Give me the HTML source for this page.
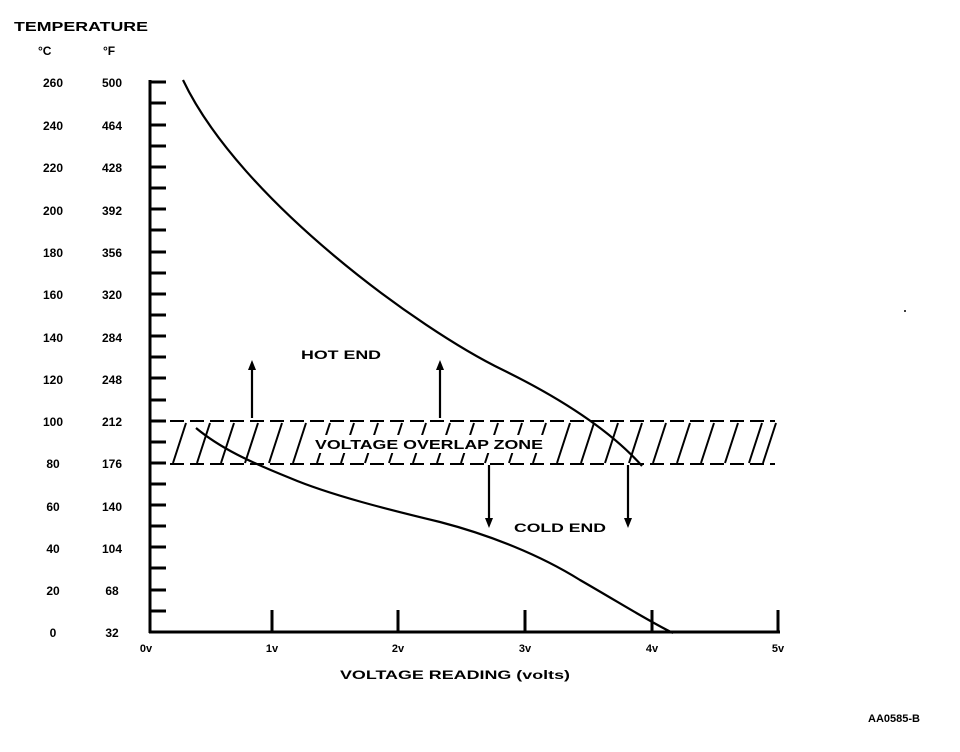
<!DOCTYPE html>
<html><head><meta charset="utf-8"><style>
html,body{margin:0;padding:0;background:#fff;}
svg{display:block;}
text{font-family:"Liberation Sans",sans-serif;font-weight:bold;fill:#000;}
</style></head><body>
<svg width="960" height="752" viewBox="0 0 960 752" xmlns="http://www.w3.org/2000/svg">
<text x="14" y="31" font-size="13" textLength="134" lengthAdjust="spacingAndGlyphs">TEMPERATURE</text>
<text x="38" y="55" font-size="12">°C</text>
<text x="103" y="55" font-size="12">°F</text>
<g font-size="12" text-anchor="middle">
<text x="53" y="87">260</text><text x="112" y="87">500</text>
<text x="53" y="130">240</text><text x="112" y="130">464</text>
<text x="53" y="172">220</text><text x="112" y="172">428</text>
<text x="53" y="215">200</text><text x="112" y="215">392</text>
<text x="53" y="257">180</text><text x="112" y="257">356</text>
<text x="53" y="299">160</text><text x="112" y="299">320</text>
<text x="53" y="342">140</text><text x="112" y="342">284</text>
<text x="53" y="384">120</text><text x="112" y="384">248</text>
<text x="53" y="426">100</text><text x="112" y="426">212</text>
<text x="53" y="468">80</text><text x="112" y="468">176</text>
<text x="53" y="511">60</text><text x="112" y="511">140</text>
<text x="53" y="553">40</text><text x="112" y="553">104</text>
<text x="53" y="595">20</text><text x="112" y="595">68</text>
<text x="53" y="637">0</text><text x="112" y="637">32</text>
</g>
<g stroke="#000" stroke-width="3" fill="none">
<line x1="150" y1="80" x2="150" y2="633"/>
<line x1="149" y1="632" x2="780" y2="632"/>
<path d="M150 82h16M150 103h16M150 125h16M150 146h16M150 167h16M150 188h16M150 209h16M150 230h16M150 252h16M150 273h16M150 294h16M150 315h16M150 336h16M150 357h16M150 378h16M150 400h16M150 421h16M150 442h16M150 463h16M150 484h16M150 505h16M150 526h16M150 547h16M150 568h16M150 590h16M150 611h16"/>
<path d="M272 632v-22M398 632v-22M525 632v-22M652 632v-22M778 632v-22"/>
</g>
<g font-size="11" text-anchor="middle">
<text x="146" y="652">0v</text><text x="272" y="652">1v</text><text x="398" y="652">2v</text><text x="525" y="652">3v</text><text x="652" y="652">4v</text><text x="778" y="652">5v</text>
</g>
<text x="455" y="679" font-size="12" text-anchor="middle" textLength="230" lengthAdjust="spacingAndGlyphs">VOLTAGE READING (volts)</text>
<text x="920" y="722" font-size="11" text-anchor="end">AA0585-B</text>
<circle cx="905" cy="311" r="1" fill="#000"/>
<g stroke="#000" stroke-width="2" fill="none">
<line x1="170" y1="421" x2="775" y2="421" stroke-dasharray="14,6"/>
<line x1="170" y1="464" x2="775" y2="464" stroke-dasharray="14,6"/>
<path d="M186 423l-13 40M210 423l-13 40M234 423l-13 40M258 423l-13 40M282 423l-13 40M306 423l-13 40M330 423l-13 40M354 423l-13 40M378 423l-13 40M402 423l-13 40M426 423l-13 40M450 423l-13 40M474 423l-13 40M498 423l-13 40M522 423l-13 40M546 423l-13 40M570 423l-13 40M594 423l-13 40M618 423l-13 40M642 423l-13 40M666 423l-13 40M690 423l-13 40M714 423l-13 40M738 423l-13 40M762 423l-13 40M776 423l-13 40"/>
</g>
<rect x="312" y="435" width="234" height="18" fill="#fff"/>
<text x="429" y="449" font-size="13" text-anchor="middle" textLength="228" lengthAdjust="spacingAndGlyphs">VOLTAGE OVERLAP ZONE</text>
<g stroke="#000" stroke-width="2.2" fill="none">
<path d="M183 80 C240 200 420 330 503 370 C560 398 610 430 642 466"/>
<path d="M196 428 C220 448 250 462 290 478 C330 495 390 510 440 522 C490 535 540 555 580 580 C620 603 650 622 673 633"/>
<path d="M252 418v-52M440 418v-52M489 465v55M628 465v55"/>
</g>
<g fill="#000">
<path d="M248 370l4-10 4 10z"/><path d="M436 370l4-10 4 10z"/>
<path d="M485 518l4 10 4-10z"/><path d="M624 518l4 10 4-10z"/>
</g>
<text x="301" y="359" font-size="12" textLength="80" lengthAdjust="spacingAndGlyphs">HOT END</text>
<text x="514" y="532" font-size="12" textLength="92" lengthAdjust="spacingAndGlyphs">COLD END</text>
</svg>
</body></html>
